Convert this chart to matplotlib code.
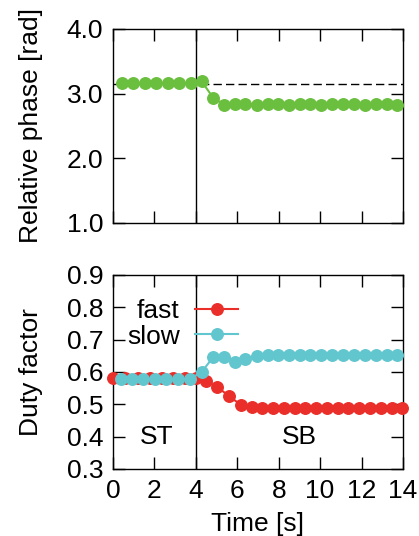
import matplotlib
matplotlib.use("Agg")
import matplotlib.pyplot as plt

plt.rcParams['font.family'] = ['Liberation Sans', 'DejaVu Sans']

# Relative phase between legs over time
t_phase = [0.42, 0.95, 1.55, 2.08, 2.64, 3.19, 3.75, 4.28, 4.85, 5.38, 5.89,
           6.39, 6.94, 7.47, 7.98, 8.50, 9.03, 9.51, 10.04, 10.59, 11.12,
           11.64, 12.17, 12.70, 13.21, 13.73]
phase = [3.16, 3.16, 3.16, 3.16, 3.16, 3.16, 3.16, 3.19, 2.93, 2.83, 2.84,
         2.84, 2.83, 2.84, 2.84, 2.83, 2.84, 2.84, 2.83, 2.84, 2.84, 2.84,
         2.83, 2.84, 2.84, 2.83]
phase_ref = 3.14159

# Duty factor of fast and slow legs
t_fast = [0.0, 0.56, 1.2, 1.79, 2.36, 2.91, 3.48, 4.0, 4.49, 5.04, 5.6,
          6.17, 6.7, 7.21, 7.73, 8.25, 8.77, 9.29, 9.81, 10.33, 10.85, 11.37,
          11.89, 12.41, 12.93, 13.45, 13.97]
duty_fast = [0.58, 0.58, 0.58, 0.58, 0.58, 0.58, 0.58, 0.58, 0.571, 0.554,
             0.525, 0.499, 0.491, 0.49, 0.49, 0.49, 0.49, 0.49, 0.49, 0.49,
             0.49, 0.49, 0.49, 0.49, 0.49, 0.49, 0.49]
t_slow = [0.37, 0.92, 1.46, 2.03, 2.58, 3.14, 3.72, 4.28, 4.85, 5.38, 5.89,
          6.39, 6.94, 7.47, 7.98, 8.50, 9.03, 9.51, 10.04, 10.59, 11.12,
          11.64, 12.17, 12.70, 13.21, 13.73]
duty_slow = [0.578, 0.578, 0.578, 0.578, 0.578, 0.578, 0.578, 0.60, 0.647,
             0.647, 0.632, 0.641, 0.649, 0.651, 0.653, 0.653, 0.653, 0.653,
             0.653, 0.653, 0.653, 0.653, 0.653, 0.653, 0.653, 0.652]

switch_time = 4.0
phase_ticks = [1.0, 2.0, 3.0, 4.0]
duty_ticks = [0.3, 0.4, 0.5, 0.6, 0.7, 0.8, 0.9]
time_ticks = [0, 2, 4, 6, 8, 10, 12, 14]

GREEN = '#6abf3f'
RED = '#ea2f2b'
CYAN = '#62c6cf'
FS = 19

fig = plt.figure(figsize=(4.19, 5.36), dpi=100)
ax1 = fig.add_axes([0.2697, 0.584, 0.692, 0.362])
ax2 = fig.add_axes([0.2697, 0.125, 0.692, 0.362])

for ax in (ax1, ax2):
    ax.set_xlim(0, 14)
    ax.set_xticks(time_ticks)
    ax.tick_params(direction='in', length=8.5, width=1, top=True, right=True,
                   labelsize=FS, pad=7)
    for s in ax.spines.values():
        s.set_linewidth(1.0)
    ax.axvline(switch_time, color='black', lw=1.0, zorder=1)

# Top panel
ax1.set_ylim(1.0, 4.0)
ax1.set_yticks(phase_ticks)
ax1.set_yticklabels([f"{v:.1f}" for v in phase_ticks])
ax1.tick_params(labelbottom=False)
ax1.axhline(phase_ref, color='black', lw=1.0, ls=(0, (6, 3)), zorder=2)
ax1.plot(t_phase, phase, '-o', color=GREEN, lw=1.5, ms=8.3, zorder=3,
         clip_on=False)
ax1.set_ylabel('Relative phase [rad]', fontsize=FS, labelpad=17)

# Bottom panel
ax2.set_ylim(0.3, 0.9)
ax2.set_yticks(duty_ticks)
ax2.set_yticklabels([f"{v:.1f}" for v in duty_ticks])
ax2.plot(t_fast, duty_fast, '-o', color=RED, lw=1.5, ms=8.3, zorder=3,
         clip_on=False, label='fast')
ax2.plot(t_slow, duty_slow, '-o', color=CYAN, lw=1.5, ms=8.3, zorder=4,
         clip_on=False, label='slow')
ax2.set_ylabel('Duty factor', fontsize=FS, labelpad=17)
ax2.set_xlabel('Time [s]', fontsize=FS, labelpad=7)
ax2.text(2.1, 0.4, 'ST', fontsize=FS, ha='center', va='center')
ax2.text(9.0, 0.4, 'SB', fontsize=FS, ha='center', va='center')
ax2.legend(loc='upper right', bbox_to_anchor=(0.43, 0.875), frameon=False,
           fontsize=FS, markerfirst=False, handlelength=1.6,
           handletextpad=0.6, labelspacing=0.05, borderpad=0,
           borderaxespad=0)

fig.savefig('out.png', dpi=100)
